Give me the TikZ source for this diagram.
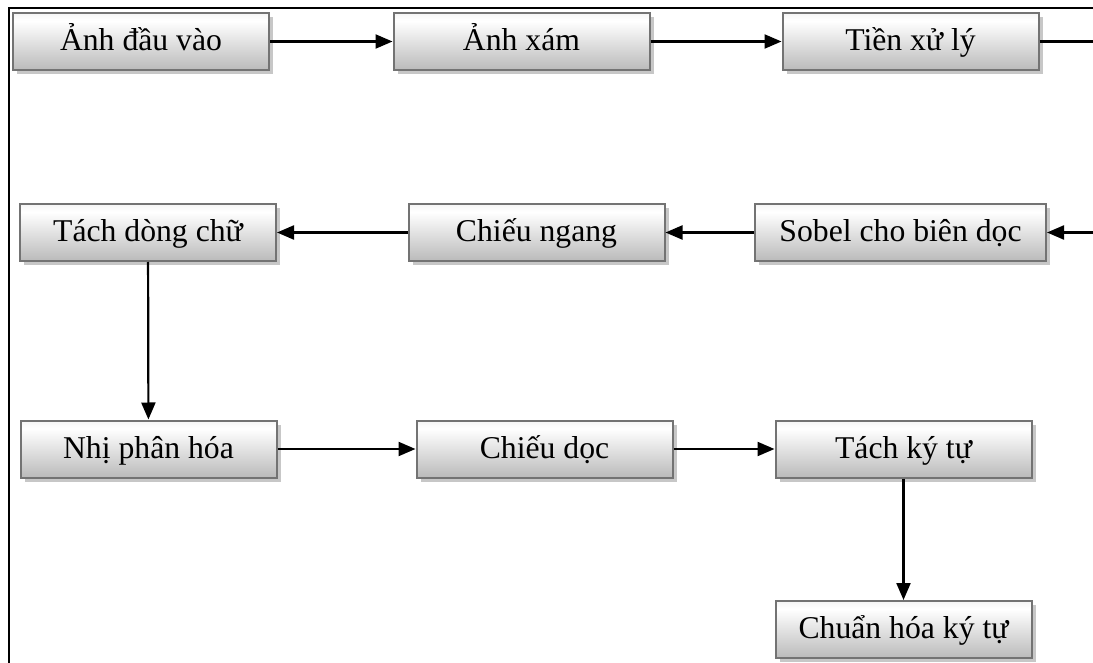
\documentclass[tikz,border=0pt]{standalone}
\usepackage{fontspec}
\setmainfont{Liberation Serif}
\usetikzlibrary{arrows.meta,shadows}
\pgfdeclareverticalshading{boxshade}{100bp}{color(0bp)=(black!42); color(25bp)=(black!27); color(68bp)=(white); color(100bp)=(black!18)}
\tikzset{
  stepbox/.style={draw=black!55, line width=2pt, shading=boxshade, minimum width=256pt, minimum height=57pt, inner sep=0pt,
    text height=24pt, text depth=6pt,
    font=\fontsize{31.7}{38}\selectfont,
    drop shadow={shadow xshift=4pt, shadow yshift=-4pt, fill=black!22, opacity=1}},
  conn/.style={line width=2.2pt, black},
  arr/.style={conn, -{Triangle[length=17pt,width=14pt]}},
  frameline/.style={line width=2.5pt, black}
}
\begin{document}
\begin{tikzpicture}[x=1pt,y=-1pt]
\useasboundingbox (0,0) rectangle (1093,663);
\fill[white] (0,0) rectangle (1093,663);
\coordinate (fTL) at (9,8);
\coordinate (fTR) at (1093,8);
\coordinate (fBL) at (9,663);
\draw[frameline] (fTR) -- (fTL) -- (fBL);

\node[stepbox] (a1) at (141,41.5) {Ảnh đầu vào};
\node[stepbox] (a2) at (521.5,41.5) {Ảnh xám};
\node[stepbox] (a3) at (910.5,41.5) {Tiền xử lý};

\node[stepbox] (b1) at (148,232.5) {Tách dòng chữ};
\node[stepbox] (b2) at (536.5,232.5) {Chiếu ngang};
\node[stepbox, minimum width=291pt] (b3) at (900.5,232.5) {Sobel cho biên dọc};

\node[stepbox] (c1) at (148.5,449) {Nhị phân hóa};
\node[stepbox] (c2) at (544.5,449) {Chiếu dọc};
\node[stepbox] (c3) at (903.5,449) {Tách ký tự};

\node[stepbox] (d1) at (903.5,629.5) {Chuẩn hóa ký tự};

\coordinate (r1) at (1093,41.5);
\coordinate (r2) at (1093,232.5);

\draw[arr] (a1) -- (a2);
\draw[arr] (a2) -- (a3);
\draw[conn] (a3) -- (r1);
\draw[arr] (r2) -- (b3);
\draw[arr] (b3) -- (b2);
\draw[arr] (b2) -- (b1);
\draw[arr] (b1) -- (c1);
\draw[arr] (c1) -- (c2);
\draw[arr] (c2) -- (c3);
\draw[arr] (c3) -- (d1);
\end{tikzpicture}
\end{document}
